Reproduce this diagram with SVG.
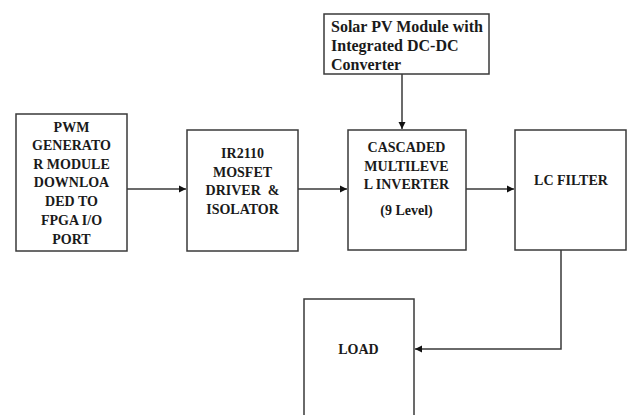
<svg xmlns="http://www.w3.org/2000/svg" width="627" height="415" viewBox="0 0 627 415">
<style>
.box{fill:#fff;stroke:#3a3a3a;stroke-width:1.5}
.t{font-family:"Liberation Serif","Times New Roman",serif;font-weight:bold;font-size:14px;fill:#1a1a1a;text-anchor:middle}
.tl{font-family:"Liberation Serif","Times New Roman",serif;font-weight:bold;font-size:16px;fill:#1a1a1a}
.c{fill:none;stroke:#3a3a3a;stroke-width:1.5}
</style>
<defs>
<marker id="ah" markerWidth="8" markerHeight="8" refX="7" refY="4" orient="auto" markerUnits="userSpaceOnUse">
<path d="M0,0.5 L7,4 L0,7.5 Z" fill="#111"/>
</marker>
</defs>
<g id="pwm">
<rect class="box" x="16" y="114" width="111" height="137"/>
<text class="t" x="71.5" y="132">PWM</text>
<text class="t" x="71.5" y="150">GENERATO</text>
<text class="t" x="71.5" y="168.5">R MODULE</text>
<text class="t" x="71.5" y="187">DOWNLOA</text>
<text class="t" x="71.5" y="206">DED TO</text>
<text class="t" x="71.5" y="225">FPGA I/O</text>
<text class="t" x="71.5" y="244">PORT</text>
</g>
<g id="driver">
<rect class="box" x="187" y="130" width="111" height="121"/>
<text class="t" x="242.5" y="157.5">IR2110</text>
<text class="t" x="242.5" y="176.5">MOSFET</text>
<text class="t" x="242.5" y="195">DRIVER&#160; &amp;</text>
<text class="t" x="242.5" y="214">ISOLATOR</text>
</g>
<g id="solar">
<rect class="box" x="324" y="14" width="165" height="60"/>
<text class="tl" x="331" y="32">Solar PV Module with</text>
<text class="tl" x="331" y="51">Integrated DC-DC</text>
<text class="tl" x="331" y="70">Converter</text>
</g>
<g id="inverter">
<rect class="box" x="348" y="130" width="118" height="120"/>
<text class="t" x="406.5" y="152">CASCADED</text>
<text class="t" x="406.5" y="170.5">MULTILEVE</text>
<text class="t" x="406.5" y="189">L INVERTER</text>
<text class="t" x="406.5" y="215">(9 Level)</text>
</g>
<g id="filter">
<rect class="box" x="515" y="130" width="111" height="120"/>
<text class="t" x="571" y="185">LC FILTER</text>
</g>
<g id="load">
<rect class="box" x="304" y="299" width="110" height="130"/>
<text class="t" x="358.5" y="354">LOAD</text>
</g>
<g id="connectors">
<line class="c" x1="127" y1="189" x2="186" y2="189" marker-end="url(#ah)"/>
<line class="c" x1="298" y1="189" x2="347" y2="189" marker-end="url(#ah)"/>
<line class="c" x1="466" y1="189" x2="514" y2="189" marker-end="url(#ah)"/>
<line class="c" x1="402" y1="74" x2="402" y2="129" marker-end="url(#ah)"/>
<polyline class="c" points="561,250 561,349 415,349" marker-end="url(#ah)"/>
</g>
</svg>
